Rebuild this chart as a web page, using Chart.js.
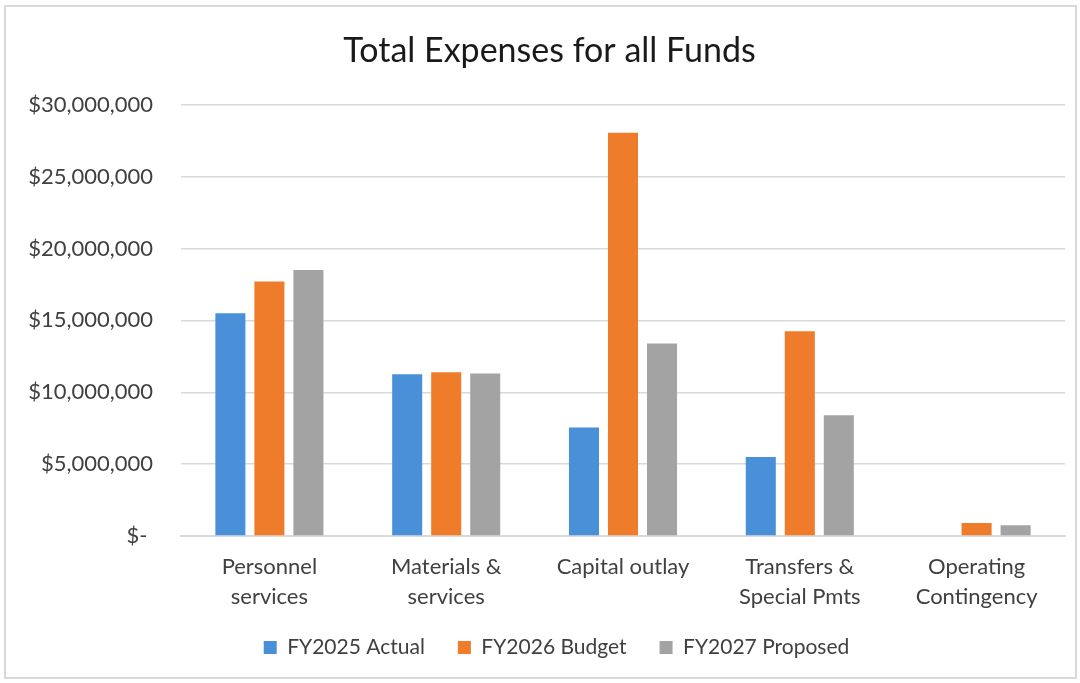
<!DOCTYPE html>
<html>
<head>
<meta charset="utf-8">
<title>Total Expenses for all Funds</title>
<script src="https://cdn.jsdelivr.net/npm/chart.js@4/dist/chart.umd.min.js"></script>
<style>
    html, body { margin: 0; padding: 0; background: #ffffff; }
    #wrap { position: absolute; left: 0; top: 0; width: 1080px; height: 683px; }
</style>
</head>
<body>
<div id="wrap"><canvas id="expenses-chart" width="1080" height="683"></canvas></div>
<script>
// Expense categories (multi-line labels)
const categories = [
    ["Personnel", "services"],
    ["Materials &", "services"],
    ["Capital outlay"],
    ["Transfers &", "Special Pmts"],
    ["Operating", "Contingency"]
];

// Dollars per category
const fy2025Actual = [15500000, 11250000, 7550000, 5500000, 0];
const fy2026Budget = [17700000, 11400000, 28050000, 14250000, 900000];
const fy2027Proposed = [18500000, 11300000, 13400000, 8400000, 750000];

const yMax = 30000000;
const yStep = 5000000;

const fontFamily = "Lato, 'Open Sans', sans-serif";
const textColor = "#404040";

// white card with a thin grey frame
const framePlugin = {
    id: "frame",
    beforeDraw(chart) {
        const ctx = chart.ctx;
        ctx.save();
        ctx.fillStyle = "#ffffff";
        ctx.fillRect(0, 0, chart.width, chart.height);
        ctx.strokeStyle = "#d9d9d9";
        ctx.lineWidth = 2;
        ctx.strokeRect(5, 6, chart.width - 9, chart.height - 11);
        ctx.restore();
    }
};

// title and legend sit a little right of centre; legend pulled up under the axis
const nudgeBlocks = {
    id: "nudgeBlocks",
    afterLayout(chart) {
        chart.titleBlock.left += 12;
        chart.titleBlock.right += 12;
        chart.legend.left += 19;
        chart.legend.right += 19;
        chart.legend.top -= 12;
        chart.legend.bottom -= 12;
    }
};

function money(v) {
    if (v === 0) return "$- ";
    return "$" + v.toLocaleString("en-US");
}

new Chart(document.getElementById("expenses-chart"), {
    type: "bar",
    data: {
        labels: categories,
        datasets: [
            { label: "FY2025 Actual", data: fy2025Actual, backgroundColor: "#4a90d9" },
            { label: "FY2026 Budget", data: fy2026Budget, backgroundColor: "#ee7c2b" },
            { label: "FY2027 Proposed", data: fy2027Proposed, backgroundColor: "#a3a3a3" }
        ]
    },
    options: {
        responsive: false,
        animation: false,
        devicePixelRatio: 1,
        layout: { padding: { left: 10, right: 15, top: 20, bottom: 3 } },
        datasets: {
            bar: { categoryPercentage: 0.662, barPercentage: 0.77 }
        },
        plugins: {
            title: {
                display: true,
                text: "Total Expenses for all Funds",
                color: "#1a1a1a",
                font: { family: fontFamily, size: 34, weight: "normal" },
                padding: { top: 11, bottom: 33 }
            },
            legend: {
                position: "bottom",
                labels: {
                    color: textColor,
                    font: { family: fontFamily, size: 21 },
                    boxWidth: 13,
                    boxHeight: 13,
                    padding: 33
                }
            },
            tooltip: { enabled: false }
        },
        scales: {
            x: {
                afterFit(scale) { scale.height = 80; },
                grid: { display: false, drawTicks: false },
                border: { display: true, color: "#d9d9d9", width: 2 },
                ticks: {
                    color: textColor,
                    font: { family: fontFamily, size: 22, lineHeight: 1.364 },
                    padding: 16,
                    maxRotation: 0,
                    autoSkip: false
                }
            },
            y: {
                min: 0,
                max: yMax,
                afterFit(scale) { scale.width = 171; },
                grid: { color: "#d9d9d9", lineWidth: 1.5, drawTicks: false },
                border: { display: false },
                ticks: {
                    stepSize: yStep,
                    color: textColor,
                    font: { family: fontFamily, size: 22 },
                    padding: 28,
                    callback: v => money(v)
                }
            }
        }
    },
    plugins: [framePlugin, nudgeBlocks]
});
</script>
</body>
</html>
